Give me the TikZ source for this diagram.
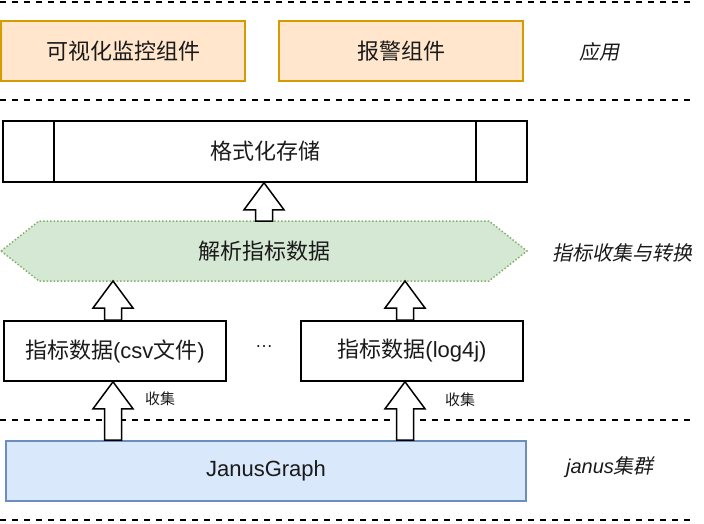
\documentclass[tikz,border=0pt]{standalone}
\usepackage{fontspec}
\setmainfont{Liberation Sans}
\newfontfamily\cjk{Noto Sans CJK SC}
\newfontfamily\cjkit[FakeSlant=0.2]{Noto Sans CJK SC}
\usetikzlibrary{calc}
\definecolor{appfill}{HTML}{FFE6CC}
\definecolor{appdraw}{HTML}{D79B00}
\definecolor{hexfill}{HTML}{D5E8D4}
\definecolor{hexdraw}{HTML}{82B366}
\definecolor{janfill}{HTML}{DAE8FC}
\definecolor{jandraw}{HTML}{6C8EBF}
\definecolor{txt}{HTML}{1A1A1A}
\newcommand{\blockup}[2]{%
  \path ($(#1)+(8.5,0)$) coordinate (bR) ($(#1)+(-8.5,0)$) coordinate (bL);
  \draw[barrow] (#1) -- ++(20,27) -- ++(-11.5,0) -- (bR |- #2) -- (bL |- #2)
    -- ($(#1)+(-8.5,27)$) -- ++(-11.5,0) -- cycle;}
\begin{document}
\begin{tikzpicture}[x=1pt,y=-1pt,
  sep/.style={line width=2pt,dash pattern=on 6pt off 6pt},
  box/.style={draw=black,line width=1.6pt,fill=white,minimum height=60pt,inner sep=0pt,text=txt,
    font=\fontsize{22}{26}\selectfont},
  appbox/.style={box,draw=appdraw,fill=appfill,minimum width=244pt},
  databox/.style={box,minimum width=222pt},
  side/.style={text=txt,font=\cjkit\fontsize{20}{24}\selectfont},
  small/.style={text=txt,font=\cjk\fontsize{15}{18}\selectfont},
  barrow/.style={draw=black,line width=1.5pt,fill=white,line join=miter}]
\useasboundingbox (0,0) rectangle (704,524);
% separators
\draw[sep] (0,2) -- (690,2);
\draw[sep] (0,100) -- (690,100);
\draw[sep] (0,420) -- (690,420);
\draw[sep] (0,520) -- (690,520);
% application layer
\node[appbox] (app1) at (123,51) {\cjk 可视化监控组件};
\node[appbox] (app2) at (401,51) {\cjk 报警组件};
\node[side] (lapp) at (599,52) {应用};
% storage
\node[box,minimum width=524pt,minimum height=61pt] (store) at (265,151.5) {\cjk 格式化存储};
\draw[line width=1.6pt] ($(store.north west)+(52,0)$) -- ($(store.south west)+(52,0)$);
\draw[line width=1.6pt] ($(store.north east)+(-52,0)$) -- ($(store.south east)+(-52,0)$);
% hexagon
\coordinate (hl) at (1,251);
\coordinate (htl) at (39,221);
\coordinate (htr) at (489,221);
\coordinate (hr) at (527,251);
\coordinate (hbr) at (489,281);
\coordinate (hbl) at (39,281);
\draw[draw=hexdraw,fill=hexfill,line width=1.5pt,dotted] (hl) -- (htl) -- (htr) -- (hr) -- (hbr) -- (hbl) -- cycle;
\node[text=txt,font=\cjk\fontsize{22}{26}\selectfont] (hex) at (264,251) {解析指标数据};
\node[side] (lcol) at (622,253) {指标收集与转换};
% data boxes
\node[databox] (boxL) at (115,351) {{\cjk 指标数据}(csv{\cjk 文件})};
\node[databox] (boxR) at (412,351) {{\cjk 指标数据}(log4j)};
\node[text=txt,font=\fontsize{18}{20}\selectfont] (dots) at (264,347) {\dots};
% janus
\node[box,draw=jandraw,fill=janfill,minimum width=520pt] (janus) at (266,471) {JanusGraph};
\node[text=txt,font=\fontsize{20}{24}\selectfont] (ljan) at (610,467) {\itshape janus{\cjkit 集群}};
% arrows
\coordinate (xa) at ([xshift=-1pt]store.south);
\blockup{xa}{htl}
\coordinate (xl) at ([xshift=-2pt]boxL.north);
\coordinate (xr) at ([xshift=-7pt]boxR.north);
\coordinate (t2) at (xl |- hbl);
\coordinate (t3) at (xr |- hbl);
\blockup{t2}{boxL.north}
\blockup{t3}{boxR.north}
\coordinate (t4) at ([xshift=-2pt]boxL.south);
\coordinate (t5) at ([xshift=-7pt]boxR.south);
\blockup{t4}{janus.north}
\blockup{t5}{janus.north}
\node[small] (c1) at (160,399) {收集};
\node[small] (c2) at (460,400) {收集};
\end{tikzpicture}
\end{document}
